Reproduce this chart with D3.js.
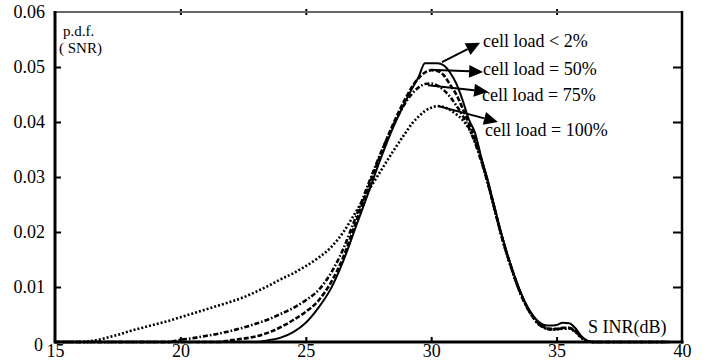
<!DOCTYPE html>
<html>
<head>
<meta charset="utf-8">
<script src="https://cdn.jsdelivr.net/npm/d3@7"></script>
<style>
  html, body { margin: 0; padding: 0; background: #fff; }
  svg { display: block; }
</style>
</head>
<body>
<svg id="chart" width="715" height="362"></svg>
<script>
// ---- data ----
const sinr = [
  15,15.5,16,16.5,17,17.5,18,18.5,19,19.5,
  20,20.5,21,21.5,22,22.5,23,23.5,24,24.5,
  25,25.5,26,26.5,27,27.5,28,28.5,29,
  29.25,29.5,29.75,30,30.25,30.5,30.75,31,31.25,31.5,
  31.75,32,32.25,32.5,32.75,33,33.25,33.5,33.75,34,
  34.25,34.5,34.75,35,35.25,35.5,35.75,36,36.25,36.5,
  37,37.5,38,38.5,39,39.5
];
const load2 = [
  0,0,0,0,0,0,0,0,0,0,
  0,0,0,0,0,0,0,0.0003,0.0008,0.0018,
  0.0035,0.0062,0.0097,0.0148,0.0210,0.0272,0.0335,0.0392,0.0440,
  0.0462,0.0482,0.0507,0.0507,0.0507,0.0503,0.0490,0.0470,0.0440,0.0405,
  0.0380,0.0335,0.0295,0.0250,0.0205,0.0165,0.0130,0.0098,0.0072,0.0052,
  0.0038,0.0031,0.0030,0.0031,0.0035,0.0034,0.0025,0.0010,0.0002,0,
  0,0,0,0,0,0
];
const load50 = [
  0,0,0,0,0,0,0,0,0,0,
  0,0,0,0,0.0003,0.0006,0.0010,0.0017,0.0027,0.0040,
  0.0055,0.0075,0.0108,0.0155,0.0218,0.0282,0.0343,0.0398,0.0445,
  0.0465,0.0480,0.0490,0.0494,0.0493,0.0485,0.0468,0.0450,0.0425,0.0398,
  0.0370,0.0332,0.0292,0.0248,0.0203,0.0163,0.0128,0.0096,0.0070,0.0050,
  0.0035,0.0027,0.0024,0.0024,0.0026,0.0026,0.0020,0.0008,0.0001,0,
  0,0,0,0,0,0
];
const load75 = [
  0,0,0,0,0,0,0,0,0,0,
  0.0004,0.0007,0.0011,0.0015,0.0020,0.0026,0.0033,0.0041,0.0051,0.0062,
  0.0076,0.0094,0.0125,0.0170,0.0228,0.0288,0.0345,0.0395,0.0437,
  0.0452,0.0463,0.0469,0.0470,0.0466,0.0458,0.0446,0.0430,0.0412,0.0390,
  0.0362,0.0328,0.0290,0.0246,0.0202,0.0162,0.0127,0.0095,0.0069,0.0049,
  0.0034,0.0026,0.0023,0.0023,0.0025,0.0025,0.0019,0.0008,0.0001,0,
  0,0,0,0,0,0
];
const load100 = [
  0,0,0,0.0002,0.0007,0.0013,0.0020,0.0026,0.0032,0.0038,
  0.0045,0.0052,0.0059,0.0066,0.0073,0.0081,0.0091,0.0102,0.0114,0.0125,
  0.0138,0.0153,0.0172,0.0200,0.0237,0.0275,0.0312,0.0348,0.0382,
  0.0398,0.0410,0.0420,0.0426,0.0429,0.0427,0.0422,0.0414,0.0404,0.0388,
  0.0364,0.0330,0.0290,0.0246,0.0202,0.0162,0.0127,0.0095,0.0069,0.0049,
  0.0034,0.0026,0.0023,0.0023,0.0024,0.0024,0.0018,0.0007,0.0001,0,
  0,0,0,0,0,0
];
const seriesNames = ["cell load < 2%", "cell load = 50%", "cell load = 75%", "cell load = 100%"];
const xTicks = [15, 20, 25, 30, 35, 40];
const yTicks = [0, 0.01, 0.02, 0.03, 0.04, 0.05, 0.06];
// annotation anchors in data units: arrow start, arrow tip, label position
const arrowFromX = [30.43, 29.95, 29.87, 30.27];
const arrowFromY = [0.0509, 0.0495, 0.0467, 0.0429];
const arrowToX   = [31.95, 32.07, 32.27, 32.66];
const arrowToY   = [0.0544, 0.0491, 0.0455, 0.0400];
const labelX     = [32.07, 32.07, 32.03, 32.15];
const labelY     = [0.0537, 0.0486, 0.0438, 0.0375];

// ---- layout ----
const FONT = "'Liberation Serif', 'Times New Roman', Tinos, 'DejaVu Serif', serif";
const svg = d3.select("#chart").attr("font-family", FONT);
const L = 55, R = 682, T = 12, B = 342;
const x = d3.scaleLinear().domain([15, 40]).range([L, R]);
const y = d3.scaleLinear().domain([0, 0.06]).range([B, T]);

const styles = [
  { dash: null, width: 2 },
  { dash: "5,2", width: 2.6 },
  { dash: "5,2,1.6,2", width: 2.6 },
  { dash: "2,2", width: 2.6 }
];
const allSeries = [load2, load50, load75, load100];

const line = d3.line()
  .x(d => x(d[0]))
  .y(d => y(d[1]))
  .curve(d3.curveMonotoneX);

allSeries.forEach((vals, i) => {
  const pts = sinr.map((s, k) => [s, vals[k]]);
  svg.append("path")
    .attr("d", line(pts))
    .attr("fill", "none")
    .attr("stroke", "#000")
    .attr("stroke-width", styles[i].width)
    .attr("stroke-dasharray", styles[i].dash)
    .attr("stroke-linejoin", "round");
});

// ---- axes ----
const gx = svg.append("g").attr("transform", `translate(0,${B})`)
  .call(d3.axisBottom(x).tickValues(xTicks).tickSize(-5).tickPadding(2).tickFormat(d3.format("d")));
const gy = svg.append("g").attr("transform", `translate(${L},0)`)
  .call(d3.axisLeft(y).tickValues(yTicks).tickSize(-6).tickPadding(10)
    .tickFormat(d => d === 0 ? "0" : d3.format(".2f")(d)));
[gx, gy].forEach(g => {
  g.attr("font-family", FONT).attr("font-size", 18);
  g.select(".domain").remove();
  g.selectAll("text").attr("font-family", FONT).attr("font-size", 18).attr("fill", "#000");
  g.selectAll("line").attr("stroke", "#000").attr("stroke-width", 2);
});
gx.selectAll(".tick").filter(d => d === 15 || d === 40).select("line").remove();
gy.selectAll(".tick").filter(d => d === 0 || d === 0.06).select("line").remove();
gy.selectAll(".tick").filter(d => d === 0).select("text").attr("dy", "0.45em").attr("x", -12);

// right axis ticks
svg.append("g").attr("transform", `translate(${R},0)`)
  .call(d3.axisRight(y).tickValues(yTicks.filter(v => v > 0 && v < 0.06)).tickSize(-9).tickFormat(""))
  .call(g => { g.select(".domain").remove(); g.selectAll("line").attr("stroke", "#000").attr("stroke-width", 2); });
// top axis ticks (cross the frame line)
svg.append("g").attr("transform", `translate(0,${T + 3})`)
  .call(d3.axisTop(x).tickValues(xTicks.filter(v => v > 15 && v < 40)).tickSize(6).tickFormat(""))
  .call(g => { g.select(".domain").remove(); g.selectAll("line").attr("stroke", "#000").attr("stroke-width", 2); });

// frame
svg.append("line").attr("x1", L).attr("x2", R).attr("y1", T).attr("y2", T)
  .attr("stroke", "#666").attr("stroke-width", 2);
svg.append("line").attr("x1", L).attr("x2", L).attr("y1", T - 1).attr("y2", B + 1.5)
  .attr("stroke", "#000").attr("stroke-width", 3);
svg.append("line").attr("x1", L).attr("x2", R + 1.5).attr("y1", B).attr("y2", B)
  .attr("stroke", "#000").attr("stroke-width", 3);
svg.append("line").attr("x1", R).attr("x2", R).attr("y1", T - 1).attr("y2", B + 1.5)
  .attr("stroke", "#000").attr("stroke-width", 2.5);

// axis titles
const addText = (tx, ty, size, str) => svg.append("text")
  .attr("x", tx).attr("y", ty)
  .attr("font-family", FONT).attr("font-size", size).attr("fill", "#000")
  .text(str);
addText(L + 8, T + 24, 15, "p.d.f.");
addText(L + 4, T + 41, 15, "( SNR)");
addText(x(36.25), B - 9, 18, "S INR(dB)");

// annotations: arrows + labels
seriesNames.forEach((name, i) => {
  const x1 = x(arrowFromX[i]), y1 = y(arrowFromY[i]);
  const x2 = x(arrowToX[i]), y2 = y(arrowToY[i]);
  const ang = Math.atan2(y2 - y1, x2 - x1);
  const hl = 14, hw = 6.5;
  const bx = x2 - hl * Math.cos(ang), by = y2 - hl * Math.sin(ang);
  svg.append("line").attr("x1", x1).attr("y1", y1).attr("x2", bx).attr("y2", by)
    .attr("stroke", "#000").attr("stroke-width", 2);
  const p = [
    [x2, y2],
    [bx + hw * Math.sin(ang), by - hw * Math.cos(ang)],
    [bx - hw * Math.sin(ang), by + hw * Math.cos(ang)]
  ];
  svg.append("polygon").attr("points", p.map(q => q.join(",")).join(" ")).attr("fill", "#000");
  addText(x(labelX[i]), y(labelY[i]), 18, name);
});
</script>
</body>
</html>
